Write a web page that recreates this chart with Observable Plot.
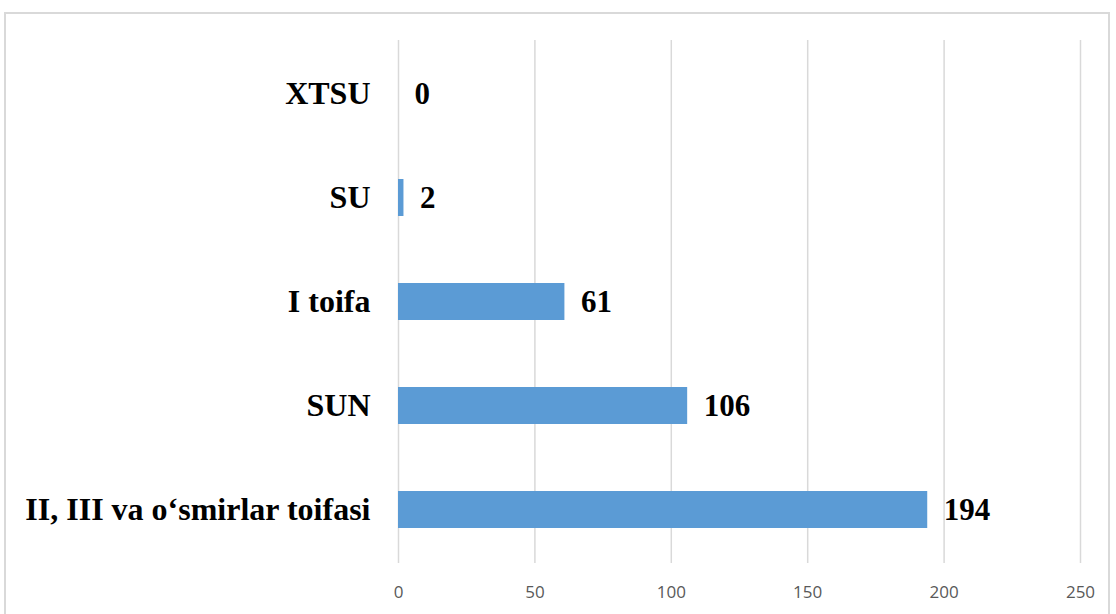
<!DOCTYPE html>
<html>
<head>
<meta charset="utf-8">
<script src="https://cdn.jsdelivr.net/npm/d3@7"></script>
<script src="https://cdn.jsdelivr.net/npm/@observablehq/plot@0.6"></script>
<style>
  html, body { margin: 0; padding: 0; background: #fff; width: 1116px; height: 614px; overflow: hidden; }
  #frame { position: absolute; left: 4px; top: 12px; width: 1106px; height: 640px; border: 2px solid #d9d9d9; box-sizing: border-box; }
  #chart { position: absolute; left: 0; top: 0; }
</style>
</head>
<body>
<div id="frame"></div>
<div id="chart"></div>
<script>
const categories = ["XTSU", "SU", "I toifa", "SUN", "II, III va o‘smirlar toifasi"];
const values = [0, 2, 61, 106, 194];
const xTicks = [0, 50, 100, 150, 200, 250];

const data = categories.map((c, i) => ({category: c, value: values[i]}));

const chart = Plot.plot({
  width: 1116,
  height: 614,
  marginLeft: 398,
  marginRight: 36,
  marginTop: 40,
  marginBottom: 51,
  style: {background: "transparent", overflow: "visible"},
  x: {domain: [0, 250], ticks: xTicks, label: null},
  y: {domain: categories, paddingInner: 0.64, paddingOuter: 0.32, label: null},
  marks: [
    Plot.ruleX(xTicks, {stroke: "#d9d9d9", strokeWidth: 1.5}),
    Plot.barX(data, {x: "value", y: "category", fill: "#5b9bd5"}),
    Plot.text(data, {
      x: "value", y: "category", text: d => String(d.value),
      textAnchor: "start", dx: 16, fontSize: 31, fontWeight: "bold",
      fontFamily: "'Liberation Serif', 'Times New Roman', serif", fill: "#000"
    }),
    Plot.axisX({
      ticks: xTicks, tickSize: 0, tickPadding: 22, label: null,
      fontSize: 17, fontFamily: "'Liberation Sans Narrow', 'Open Sans', sans-serif",
      fill: "#595959"
    }),
    Plot.axisY({
      tickSize: 0, tickPadding: 28, label: null,
      fontSize: 32, fontWeight: "bold",
      fontFamily: "'Liberation Serif', 'Times New Roman', serif", fill: "#000"
    })
  ]
});
document.getElementById("chart").appendChild(chart);
</script>
</body>
</html>
